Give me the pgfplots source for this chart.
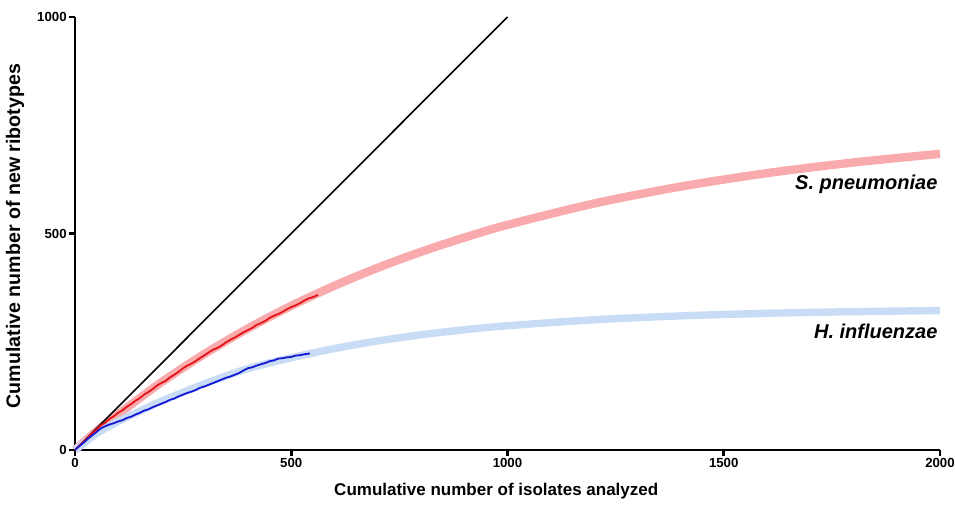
\documentclass[border=0pt]{standalone}
\usepackage{fontspec}
\setmainfont{Liberation Sans}
\usepackage{pgfplots}
\pgfplotsset{compat=1.18}
\definecolor{pinkband}{RGB}{249,170,172}
\definecolor{blueband}{RGB}{200,220,246}
\definecolor{obsred}{RGB}{228,20,24}
\definecolor{obsblue}{RGB}{20,24,210}
\begin{document}
\begin{tikzpicture}
\useasboundingbox (-37.5pt,-29.5pt) rectangle (440pt,225pt);
\begin{axis}[
  scale only axis, width=432.5pt, height=216.5pt,
  xmin=0, xmax=2000, ymin=0, ymax=1000,
  axis lines=left, axis line style={-, line width=1.4pt},
  xtick={0,500,1000,1500,2000}, ytick={0,500,1000},
  tick align=outside, major tick length=3pt,
  tick style={line width=1.3pt, black},
  /pgf/number format/assume math mode=true,
  /pgf/number format/1000 sep={},
  ticklabel style={font=\bfseries\fontsize{6.6}{7}\selectfont, inner sep=1pt},
  xlabel={Cumulative number of isolates analyzed},
  ylabel={Cumulative number of new ribotypes},
  xlabel style={font=\bfseries\fontsize{8.5}{9}\selectfont, at={(axis description cs:0.487,-0.0947)}, anchor=center},
  ylabel style={font=\bfseries\fontsize{9.8}{10}\selectfont, at={(axis description cs:-0.0694,0.494)}, anchor=center},
  clip=false,
]
% fitted accumulation curves (bands)
\addplot[pinkband, line width=4.2pt, smooth] coordinates {
(0,0) (50,44) (100,82.8) (200,156.6) (300,222.2) (400,280.8) (500,332.9) (600,379.4)
(700,420.8) (800,457.7) (900,490.5) (1000,520) (1200,569.2) (1400,608.3)
(1600,639.4) (1800,664.0) (2000,684)};
\addplot[blueband, line width=3.7pt, smooth] coordinates {
(0,0) (50,38) (100,66) (150,90) (200,113) (300,153) (400,188) (500,213) (600,234.3)
(700,251.9) (800,266.1) (900,277.7) (1000,287.0) (1200,300.7) (1400,309.7)
(1600,315.7) (1800,319.5) (2000,322)};
% identity line
\addplot[black, line width=0.8pt] coordinates {(0,0) (1000,1000)};
% observed curves
\addplot[obsred, line width=0.9pt] coordinates {
(0,0) (10,10) (20,20) (30,29) (40,39) (50,47) (60,57) (70,63) (80,72) (90,78)
(100,86) (110,92) (120,100) (130,106) (140,114) (150,120) (160,128) (170,134)
(180,141) (190,149) (200,155) (210,160) (220,168) (230,174) (240,181) (250,189)
(260,195) (270,200) (280,206) (290,213) (300,219) (310,226) (320,232) (330,236)
(340,242) (350,249) (360,255) (370,260) (380,266) (390,272) (400,277) (410,282)
(420,289) (430,293) (440,298) (450,305) (460,310) (470,314) (480,319) (490,325)
(500,330) (510,334) (520,339) (530,345) (540,350) (550,353) (562,358)};
\addplot[obsblue, line width=0.9pt] coordinates {
(0,0) (10,9) (20,17) (30,26) (40,34) (50,42) (60,50) (70,55) (80,59) (90,62)
(100,66) (110,69) (120,74) (130,77) (140,82) (150,86) (160,91) (170,94) (180,99)
(190,103) (200,107) (210,111) (220,116) (230,119) (240,124) (250,128) (260,132)
(270,135) (280,139) (290,144) (300,147) (310,151) (320,155) (330,159) (340,163)
(350,167) (360,170) (370,174) (380,178) (390,184) (400,189) (410,191) (420,195)
(430,198) (440,201) (450,205) (460,207) (470,211) (480,212) (490,214) (500,215)
(510,218) (520,219) (530,221) (543,223)};
\node[anchor=east, inner sep=0pt, font=\bfseries\itshape\fontsize{10}{11}\selectfont] at (axis cs:1995,614) {S. pneumoniae};
\node[anchor=east, inner sep=0pt, font=\bfseries\itshape\fontsize{10}{11}\selectfont] at (axis cs:1995,275) {H. influenzae};
\end{axis}
\end{tikzpicture}
\end{document}
